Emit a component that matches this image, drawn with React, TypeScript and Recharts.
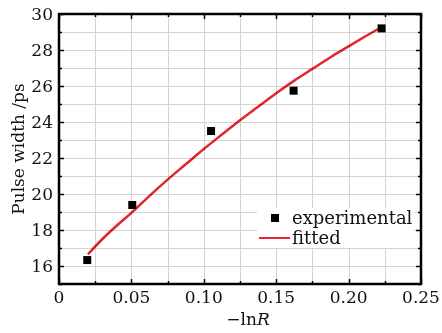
import React from 'react';
import { ComposedChart, Scatter, Line, XAxis, YAxis } from 'recharts';

const expX = [0.0195, 0.0506, 0.105, 0.162, 0.2228];
const expY = [16.33, 19.39, 23.5, 25.74, 29.2];

const fitX = [0.02, 0.03, 0.04, 0.05, 0.0625, 0.075, 0.0875, 0.1, 0.1125, 0.125, 0.1375, 0.15, 0.1625, 0.175, 0.1875, 0.2, 0.2114, 0.2228];
const fitY = [16.65, 17.5, 18.25, 18.95, 19.9, 20.8, 21.65, 22.5, 23.3, 24.1, 24.85, 25.6, 26.3, 26.95, 27.6, 28.2, 28.75, 29.28];

const xTicks = [0, 0.025, 0.05, 0.075, 0.1, 0.125, 0.15, 0.175, 0.2, 0.225, 0.25];
const yTicks = [15, 16, 17, 18, 19, 20, 21, 22, 23, 24, 25, 26, 27, 28, 29, 30];

const experimental = expX.map((x, i) => ({ x, y: expY[i] }));
const fitted = fitX.map((x, i) => ({ x, y: fitY[i] }));

const W = 442;
const H = 333;
// plot box: margin + axis sizes below give this area
const PL = 59;
const PT = 14;
const PW = 362;
const PH = 270;

const FONT = '"DejaVu Serif", serif';
const RED = '#e3262b';
const GRID = '#d4d4d4';
const tickText = { fontFamily: FONT, fontSize: 17, fill: '#111' };

const isMajorX = (v: number) => Math.round(v / 0.025) % 2 === 0;
const isMajorY = (v: number) => Math.round(v) % 2 === 0;
const fmtX = (v: number) => (!isMajorX(v) ? '' : v === 0 ? '0' : v.toFixed(2));
const fmtY = (v: number) => (!isMajorY(v) ? '' : String(v));

const xMin = xTicks[0];
const xMax = xTicks[xTicks.length - 1];
const yMin = yTicks[0];
const yMax = yTicks[yTicks.length - 1];
const gx = (v: number) => Math.round(PL + ((v - xMin) / (xMax - xMin)) * PW) + 0.5;
const gy = (v: number) => Math.round(PT + ((yMax - v) / (yMax - yMin)) * PH) + 0.5;

// grid, frame and inward ticks, multiplied over the plot so marks stay on top visually
const Frame = () => (
  <svg
    width={W}
    height={H}
    style={{ position: 'absolute', left: 0, top: 0, pointerEvents: 'none', mixBlendMode: 'multiply' }}
  >
    {xTicks.slice(1, -1).map((v) => (
      <line key={'gx' + v} x1={gx(v)} x2={gx(v)} y1={PT} y2={PT + PH} stroke={GRID} strokeWidth={1} />
    ))}
    {yTicks.slice(1, -1).map((v) => (
      <line key={'gy' + v} x1={PL} x2={PL + PW} y1={gy(v)} y2={gy(v)} stroke={GRID} strokeWidth={1} />
    ))}
    {xTicks.map((v) => {
      const len = isMajorX(v) ? 5 : 3;
      return (
        <g key={'tx' + v}>
          <line x1={gx(v)} x2={gx(v)} y1={PT + PH} y2={PT + PH - len} stroke="#000" strokeWidth={1.5} />
          <line x1={gx(v)} x2={gx(v)} y1={PT} y2={PT + len} stroke="#000" strokeWidth={1.5} />
        </g>
      );
    })}
    {yTicks.map((v) => {
      const len = isMajorY(v) ? 5 : 3;
      return (
        <g key={'ty' + v}>
          <line x1={PL} x2={PL + len} y1={gy(v)} y2={gy(v)} stroke="#000" strokeWidth={1.5} />
          <line x1={PL + PW} x2={PL + PW - len} y1={gy(v)} y2={gy(v)} stroke="#000" strokeWidth={1.5} />
        </g>
      );
    })}
    <rect x={PL} y={PT} width={PW} height={PH} fill="none" stroke="#000" strokeWidth={2.5} />
  </svg>
);

export default function App() {
  return (
    <div style={{ position: 'absolute', left: 0, top: 0, width: W, height: H, background: '#fff' }}>
      <ComposedChart width={W} height={H} margin={{ top: PT, right: W - PL - PW, bottom: 0, left: 0 }}>
        <XAxis
          type="number"
          dataKey="x"
          domain={[xMin, xMax]}
          ticks={xTicks}
          interval={0}
          height={H - PT - PH}
          tickSize={0}
          tickMargin={7}
          tickLine={false}
          axisLine={false}
          tick={tickText}
          tickFormatter={fmtX}
        />
        <YAxis
          type="number"
          dataKey="y"
          domain={[yMin, yMax]}
          ticks={yTicks}
          interval={0}
          width={PL}
          tickSize={0}
          tickMargin={6}
          tickLine={false}
          axisLine={false}
          tick={tickText}
          tickFormatter={fmtY}
        />
        <Line
          data={fitted}
          dataKey="y"
          type="monotone"
          stroke={RED}
          strokeWidth={2.5}
          dot={false}
          isAnimationActive={false}
        />
        <Scatter data={experimental} dataKey="y" fill="#000" shape="square" isAnimationActive={false} />
      </ComposedChart>

      <Frame />

      <div
        style={{
          position: 'absolute',
          left: 18,
          top: 149,
          transform: 'translate(-50%, -50%) rotate(-90deg)',
          whiteSpace: 'nowrap',
          fontFamily: FONT,
          fontSize: 17,
          color: '#111',
        }}
      >
        Pulse width /ps
      </div>
      <div
        style={{
          position: 'absolute',
          left: 248,
          top: 319,
          transform: 'translate(-50%, -50%)',
          whiteSpace: 'nowrap',
          fontFamily: FONT,
          fontSize: 17,
          color: '#111',
        }}
      >
        −ln<i>R</i>
      </div>

      <div
        style={{
          position: 'absolute',
          left: 257,
          top: 208,
          background: '#fff',
          fontFamily: FONT,
          fontSize: 18,
          color: '#111',
          padding: '0 2px',
          lineHeight: '20px',
        }}
      >
        <div style={{ display: 'flex', alignItems: 'center' }}>
          <span style={{ width: 31, display: 'inline-flex', justifyContent: 'center' }}>
            <span style={{ width: 8, height: 8, background: '#000', display: 'inline-block' }} />
          </span>
          <span style={{ marginLeft: 2 }}>experimental</span>
        </div>
        <div style={{ display: 'flex', alignItems: 'center' }}>
          <span style={{ width: 31, height: 2.5, background: RED, display: 'inline-block' }} />
          <span style={{ marginLeft: 2 }}>fitted</span>
        </div>
      </div>
    </div>
  );
}
